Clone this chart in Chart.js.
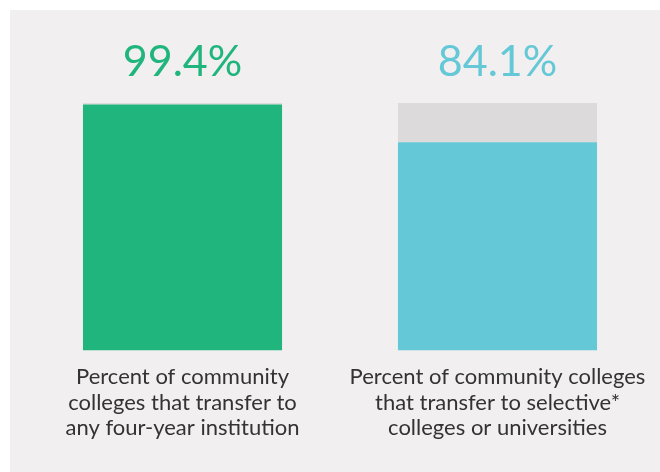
<!DOCTYPE html>
<html>
<head>
<meta charset="utf-8">
<script src="https://cdn.jsdelivr.net/npm/chart.js@4"></script>
<style>
  html, body { margin: 0; padding: 0; background: #ffffff; }
  #wrap { position: absolute; left: 10px; top: 10px; width: 650px; height: 462px; background: #f1eff0; }
  canvas { display: block; }
</style>
</head>
<body>
<div id="wrap"><canvas id="c" width="650" height="462"></canvas></div>
<script>
const categories = [
  ["Percent of community", "colleges that transfer to", "any four-year institution"],
  ["Percent of community colleges", "that transfer to selective*", "colleges or universities"]
];
const valueLabels = ["99.4%", "84.1%"];
const values = [99.4, 84.1];
const remainder = [0.6, 15.9];
const barColors = ["#21b57e", "#64c8d6"];
const trackColor = "#dcdadb";

const valueLabelPlugin = {
  id: 'valueLabels',
  afterDatasetsDraw(chart) {
    const ctx = chart.ctx;
    const meta = chart.getDatasetMeta(0);
    const yTop = chart.scales.y.getPixelForValue(100);
    ctx.save();
    ctx.font = '400 43px Lato';
    ctx.textAlign = 'center';
    ctx.textBaseline = 'alphabetic';
    meta.data.forEach((bar, i) => {
      ctx.fillStyle = barColors[i];
      ctx.fillText(valueLabels[i], bar.x, yTop - 27);
    });
    ctx.restore();
  }
};

new Chart(document.getElementById('c'), {
  type: 'bar',
  data: {
    labels: categories,
    datasets: [
      { data: values, backgroundColor: barColors, borderWidth: 0, barPercentage: 0.632, categoryPercentage: 1 },
      { data: remainder, backgroundColor: trackColor, borderWidth: 0, barPercentage: 0.632, categoryPercentage: 1 }
    ]
  },
  options: {
    responsive: false,
    animation: false,
    layout: { padding: { left: 15, right: 5, top: 93, bottom: 25 } },
    plugins: { legend: { display: false }, tooltip: { enabled: false } },
    scales: {
      x: {
        stacked: true,
        grid: { display: false },
        border: { display: false },
        ticks: { color: '#333333', font: { family: 'Lato', size: 22, lineHeight: 1.16 }, padding: 6, maxRotation: 0, autoSkip: false }
      },
      y: {
        stacked: true,
        display: false,
        min: 0, max: 100
      }
    }
  },
  plugins: [valueLabelPlugin]
});
</script>
</body>
</html>
